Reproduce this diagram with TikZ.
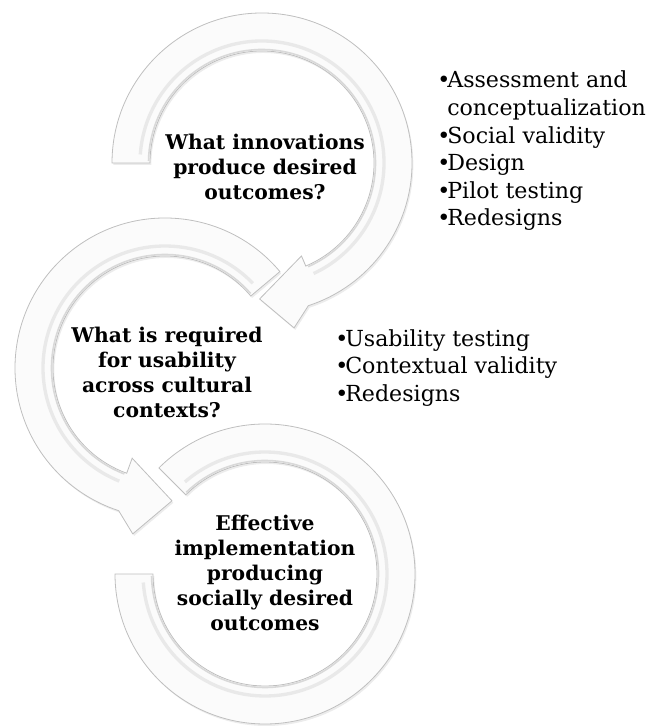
\documentclass[tikz,border=0pt]{standalone}
\usepackage{fontspec}
\setmainfont{DejaVu Serif}
\usetikzlibrary{shadows}

\begin{document}
\begin{tikzpicture}[x=0.75pt,y=0.75pt,
    band/.style={draw=gray!50,line width=0.6pt,fill=gray!3,
        drop shadow={opacity=0.15,shadow xshift=1pt,shadow yshift=-1.5pt}},
    bevel/.style={draw=gray!17,line width=2.5pt},
    rim/.style={draw=gray!30,line width=1.2pt},
    question/.style={font=\fontsize{15.2}{18.75}\selectfont\bfseries,align=center},
    listline/.style={font=\fontsize{16.6}{20.7}\selectfont,anchor=base west,inner sep=0pt}]
    \useasboundingbox (0,0) rectangle (649,727);
    % centres of the three arrows
    \coordinate (c1) at (262,564);
    \coordinate (c2) at (165,359);
    \coordinate (c3) at (265,153);
    % bottom ring
    \begin{scope}[shift={(c3)}]
    \draw[band] (135:150) arc[start angle=135,end angle=-180,radius=150] -- (180:112) arc[start angle=-180,end angle=135,radius=112] -- cycle;
    \draw[bevel] (131:122) arc[start angle=131,end angle=-176,radius=122];
    \draw[rim] (134:113.5) arc[start angle=134,end angle=-179,radius=113.5];
    \end{scope}
    % middle arrow
    \begin{scope}[shift={(c2)}]
    \draw[band] (40:150) arc[start angle=40,end angle=252,radius=150] -- (259:169) -- (273:133) -- (250:96) -- (250:112) arc[start angle=250,end angle=40,radius=112] -- cycle;
    \draw[bevel] (44:122) arc[start angle=44,end angle=248,radius=122];
    \draw[rim] (41:113.5) arc[start angle=41,end angle=249,radius=113.5];
    \end{scope}
    % top arrow
    \begin{scope}[shift={(c1)}]
    \draw[band] (180:150) arc[start angle=180,end angle=-72,radius=150] -- (-79:168) -- (-91:136) -- (-67:101) -- (-67:112) arc[start angle=-67,end angle=180,radius=112] -- cycle;
    \draw[bevel] (176:122) arc[start angle=176,end angle=-65,radius=122];
    \draw[rim] (179:113.5) arc[start angle=179,end angle=-66,radius=113.5];
    \end{scope}
    \node[question] (q1) at (265,560) {What innovations\\produce desired\\outcomes?};
    \node[question] (q2) at (167,355) {What is required\\for usability\\across cultural\\contexts?};
    \node[question] (q3) at (265,154) {Effective\\implementation\\producing\\socially desired\\outcomes};
    \node[listline] (s1) at (437,639) {\makebox[7.5pt][l]{\textbullet}Assessment and};
    \node[listline] (s2) at (437,611.4) {\hspace*{7.5pt}conceptualization};
    \node[listline] (s3) at (437,583.8) {\makebox[7.5pt][l]{\textbullet}Social validity};
    \node[listline] (s4) at (437,556.2) {\makebox[7.5pt][l]{\textbullet}Design};
    \node[listline] (s5) at (437,528.6) {\makebox[7.5pt][l]{\textbullet}Pilot testing};
    \node[listline] (s6) at (437,501) {\makebox[7.5pt][l]{\textbullet}Redesigns};
    \node[listline] (u1) at (335,380) {\makebox[7.5pt][l]{\textbullet}Usability testing};
    \node[listline] (u2) at (335,353.5) {\makebox[7.5pt][l]{\textbullet}Contextual validity};
    \node[listline] (u3) at (335,325) {\makebox[7.5pt][l]{\textbullet}Redesigns};
\end{tikzpicture}
\end{document}
